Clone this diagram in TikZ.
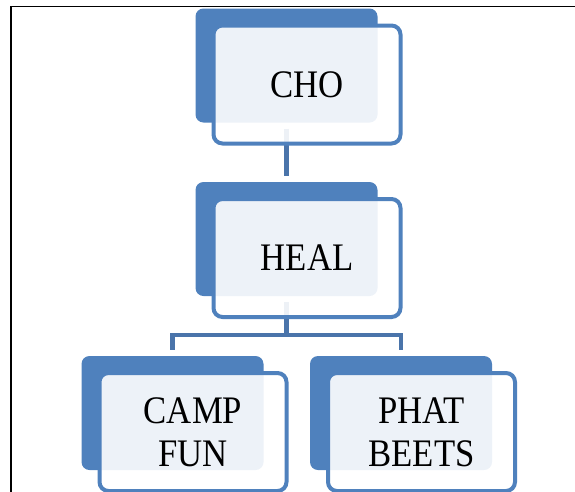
\documentclass[tikz,border=0pt]{standalone}
\usepackage{fontspec}
\newfontfamily\boxfont{Liberation Serif}[FakeStretch=0.89]
\definecolor{accent}{RGB}{79,129,189}
\definecolor{connblue}{RGB}{74,116,170}
\tikzset{
  backbox/.style={fill=accent, draw=none, rounded corners=8pt, minimum width=182pt, minimum height=114pt, inner sep=0pt},
  frontbox/.style={draw=accent, line width=4pt, fill=white, fill opacity=0.9, text opacity=1, rounded corners=9pt,
    minimum width=187pt, minimum height=118pt, inner sep=0pt, align=center, text=black,
    font=\boxfont\fontsize{39}{43}\selectfont, xshift=20.5pt, yshift=-19pt},
  conn/.style={draw=connblue, line width=4.5pt}
}
\begin{document}
\begin{tikzpicture}[x=1pt,y=-1pt]
\useasboundingbox (0,0) rectangle (575,491);
% frame
\draw[line width=1.6pt, line cap=rect] (11,491) -- (11,6.5) -- (575,6.5);
% back boxes
\node[backbox] (cho)  at (286.5,65.5) {};
\node[backbox] (heal) at (286.5,239) {};
\node[backbox] (camp) at (172.5,413) {};
\node[backbox] (phat) at (401,413) {};
% connectors
\coordinate (split) at (286.5,335);
\draw[conn] ([yshift=-6pt]cho.south) -- ([yshift=6pt]heal.north);
\draw[conn] ([yshift=-6pt]heal.south) -- (split);
\draw[conn] ([yshift=6pt]camp.north) -- (camp.north |- split) -- (phat.north |- split) -- ([yshift=6pt]phat.north);
% front boxes with text
\node[frontbox] (chof)  at (cho)  {CHO};
\node[frontbox] (healf) at (heal) {HEAL};
\node[frontbox] (campf) at (camp) {CAMP\\FUN};
\node[frontbox] (phatf) at (phat) {PHAT\\BEETS};
\end{tikzpicture}
\end{document}
